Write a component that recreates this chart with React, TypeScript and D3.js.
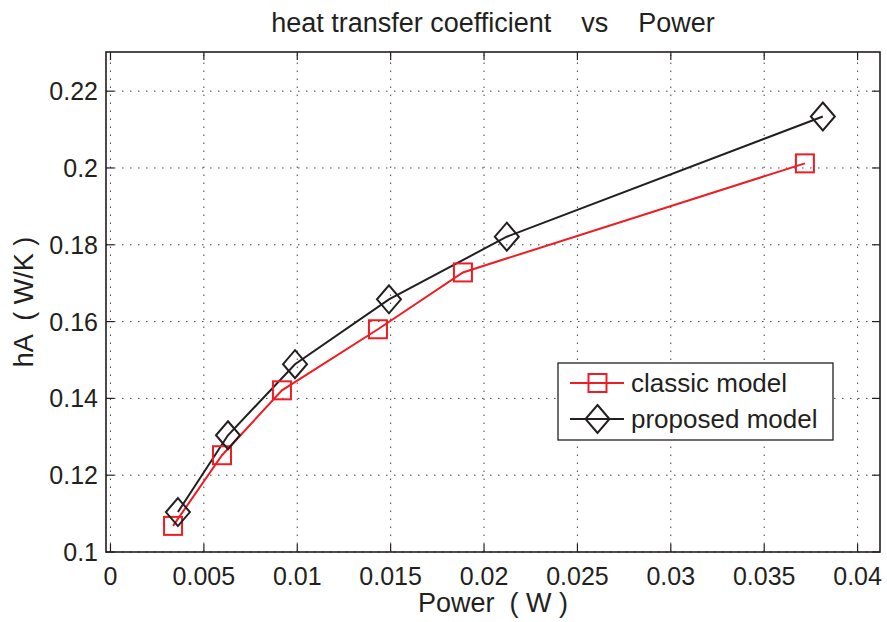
import React from "react";
import * as d3 from "d3";

const classicX = [0.00335, 0.00597, 0.00918, 0.01432, 0.01887, 0.03718];
const classicY = [0.1068, 0.1252, 0.1421, 0.158, 0.1728, 0.2012];
const proposedX = [0.00361, 0.00629, 0.00988, 0.01491, 0.02122, 0.03814];
const proposedY = [0.1104, 0.1304, 0.1489, 0.1658, 0.1821, 0.2134];
const xTicks = [0, 0.005, 0.01, 0.015, 0.02, 0.025, 0.03, 0.035, 0.04];
const xTickLabels = ["0", "0.005", "0.01", "0.015", "0.02", "0.025", "0.03", "0.035", "0.04"];
const yTicks = [0.1, 0.12, 0.14, 0.16, 0.18, 0.2, 0.22];
const yTickLabels = ["0.1", "0.12", "0.14", "0.16", "0.18", "0.2", "0.22"];
const seriesNames = ["classic model", "proposed model"];
const titleText = "heat transfer coefficient    vs    Power";
const xLabelText = "Power  ( W )";
const yLabelText = "hA  ( W/K )";

const W = 887;
const H = 622;
const L = 106, R = 880, T = 52, B = 552;
const RED = "#ee1d23";
const BLK = "#231f20";
const FONT = "'Liberation Sans', Arial, Helvetica, sans-serif";

export default function App() {
  const x = d3.scaleLinear().domain([-0.00024, 0.0412]).range([L, R]);
  const y = d3.scaleLinear().domain([0.1, 0.2302]).range([B, T]);
  const line = d3
    .line<[number, number]>()
    .x((d) => x(d[0]))
    .y((d) => y(d[1]));
  const cData = classicX.map((v, i) => [v, classicY[i]] as [number, number]);
  const pData = proposedX.map((v, i) => [v, proposedY[i]] as [number, number]);
  const sq = 9;
  const dw = 12, dh = 14;
  const diamond = (cx: number, cy: number) =>
    `M${cx},${cy - dh}L${cx + dw},${cy}L${cx},${cy + dh}L${cx - dw},${cy}Z`;
  const tl = 8;

  const lgX = 558, lgY = 363, lgW = 275, lgH = 77;
  const rows = [383, 419];

  return (
    <svg width={W} height={H} style={{ position: "absolute", left: 0, top: 0, background: "#fff" }} fontFamily={FONT}>
      <rect x={0} y={0} width={W} height={H} fill="#fff" />
      {/* grid */}
      <g stroke="#444" strokeWidth={1} strokeDasharray="1.5,6.5">
        {xTicks.map((t, i) => (
          <line key={"gx" + i} x1={x(t)} x2={x(t)} y1={B} y2={T} />
        ))}
        {yTicks.map((t, i) => (
          <line key={"gy" + i} x1={L} x2={R} y1={y(t)} y2={y(t)} />
        ))}
      </g>
      {/* ticks */}
      <g stroke={BLK} strokeWidth={1.2}>
        {xTicks.map((t, i) => (
          <g key={"tx" + i}>
            <line x1={x(t)} x2={x(t)} y1={B} y2={B - tl} />
            <line x1={x(t)} x2={x(t)} y1={T} y2={T + tl} />
          </g>
        ))}
        {yTicks.map((t, i) => (
          <g key={"ty" + i}>
            <line x1={L} x2={L + tl} y1={y(t)} y2={y(t)} />
            <line x1={R} x2={R - tl} y1={y(t)} y2={y(t)} />
          </g>
        ))}
      </g>
      <rect x={L} y={T} width={R - L} height={B - T} fill="none" stroke={BLK} strokeWidth={1.6} />
      {/* tick labels */}
      <g fill={BLK} fontSize={25}>
        {xTicks.map((t, i) => (
          <text key={"lx" + i} x={x(t)} y={585} textAnchor="middle">
            {xTickLabels[i]}
          </text>
        ))}
        {yTicks.map((t, i) => (
          <text key={"ly" + i} x={98} y={y(t) + 9} textAnchor="end">
            {yTickLabels[i]}
          </text>
        ))}
      </g>
      {/* lines */}
      <path d={line(cData) || ""} fill="none" stroke={RED} strokeWidth={2} />
      <path d={line(pData) || ""} fill="none" stroke={BLK} strokeWidth={2} />
      {cData.map((d, i) => (
        <rect key={"c" + i} x={x(d[0]) - sq} y={y(d[1]) - sq} width={2 * sq} height={2 * sq} fill="none" stroke={RED} strokeWidth={2} />
      ))}
      {pData.map((d, i) => (
        <path key={"p" + i} d={diamond(x(d[0]), y(d[1]))} fill="none" stroke={BLK} strokeWidth={2} />
      ))}
      {/* legend */}
      <rect x={lgX} y={lgY} width={lgW} height={lgH} fill="#fff" stroke={BLK} strokeWidth={1.3} />
      <line x1={570} x2={624} y1={rows[0]} y2={rows[0]} stroke={RED} strokeWidth={2} />
      <rect x={597.5 - sq} y={rows[0] - sq} width={2 * sq} height={2 * sq} fill="none" stroke={RED} strokeWidth={2} />
      <line x1={570} x2={624} y1={rows[1]} y2={rows[1]} stroke={BLK} strokeWidth={2} />
      <path d={diamond(597.5, rows[1])} fill="none" stroke={BLK} strokeWidth={2} />
      <g fill={BLK} fontSize={26}>
        <text x={631} y={rows[0] + 9}>{seriesNames[0]}</text>
        <text x={631} y={rows[1] + 9}>{seriesNames[1]}</text>
      </g>
      {/* title & labels */}
      <text x={(L + R) / 2} y={32} textAnchor="middle" fontSize={27} fill={BLK} style={{ whiteSpace: "pre" }}>
        {titleText}
      </text>
      <text x={(L + R) / 2} y={612} textAnchor="middle" fontSize={27} fill={BLK} style={{ whiteSpace: "pre" }}>
        {xLabelText}
      </text>
      <text transform={`translate(33,${(T + B) / 2}) rotate(-90)`} textAnchor="middle" fontSize={27} fill={BLK} style={{ whiteSpace: "pre" }}>
        {yLabelText}
      </text>
    </svg>
  );
}
